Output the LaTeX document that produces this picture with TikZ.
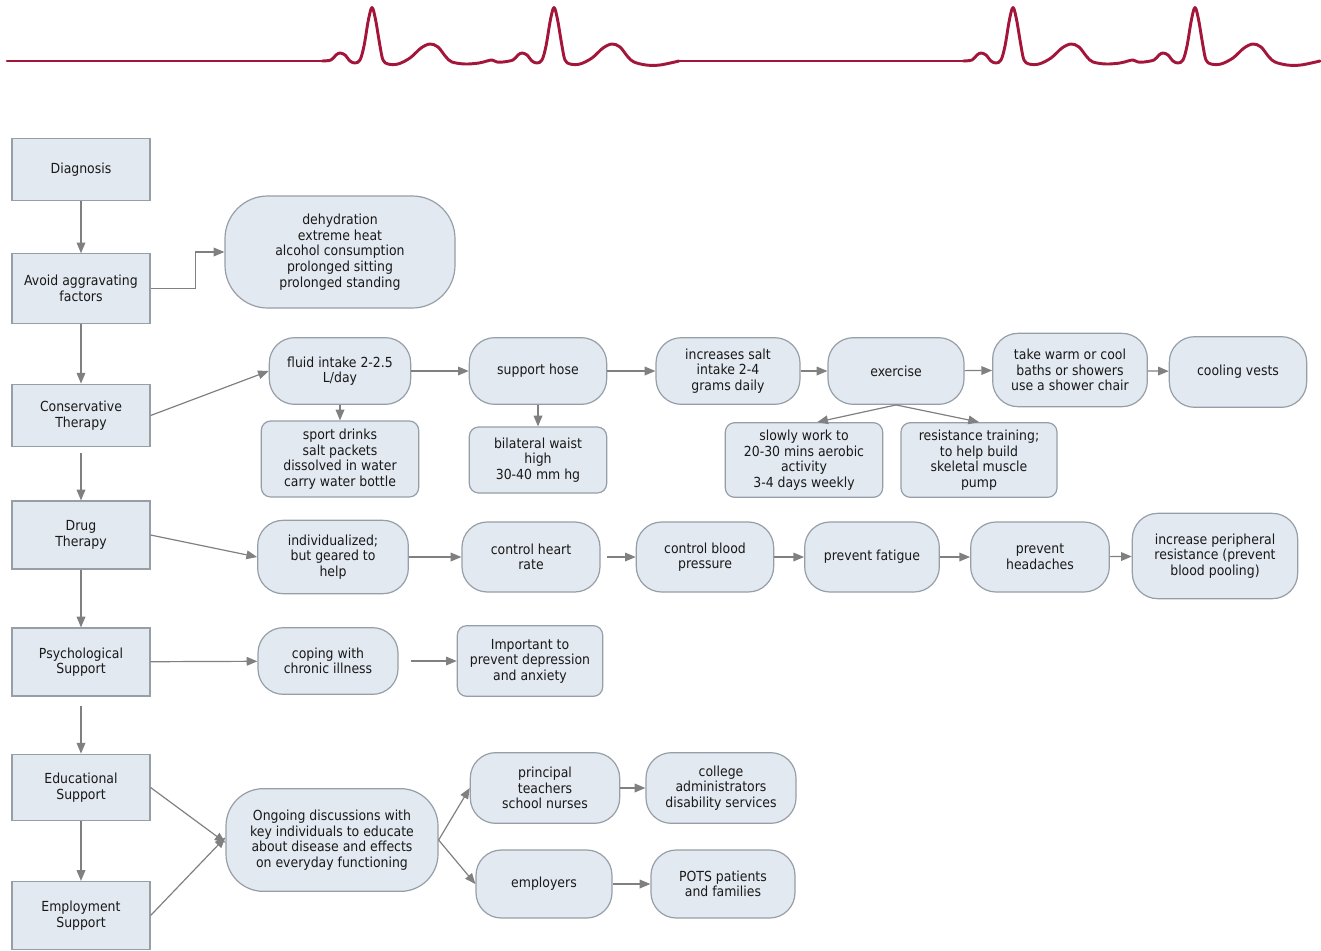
\documentclass[tikz,border=0pt]{standalone}
\usepackage{fontspec}
\setmainfont{DejaVu Sans Condensed}
\usetikzlibrary{arrows.meta}
\definecolor{boxfill}{RGB}{227,233,241}
\definecolor{boxline}{RGB}{150,158,168}
\definecolor{arrgray}{RGB}{128,128,128}
\definecolor{ecgred}{RGB}{163,22,58}
\definecolor{txt}{RGB}{25,25,25}
\tikzset{
	lbox/.style={draw=boxline, fill=boxfill, line width=0.9pt, minimum width=103.5pt, align=center, text=txt, inner sep=2pt, font=\fontsize{10.4}{11.7}\selectfont},
	stad/.style={lbox, rounded corners=19pt},
	rbox/.style={lbox, rounded corners=7pt},
	arr/.style={draw=arrgray, line width=0.9pt, -{Triangle[length=8pt,width=6.5pt]}},
	ecg/.style={draw=ecgred, line width=2.2pt, line cap=round, line join=round}}
\tikzset{every picture/.style={line width=0.75pt}}

\begin{document}
\begin{tikzpicture}[x=0.75pt,y=0.75pt,yscale=-1,xscale=1]
	\useasboundingbox (0,0) rectangle (1321,950);

	%Curve Lines: heart beat strip
	\draw[ecg] (7,61) -- (322,61);
	\draw[ecg] (679,61) -- (963,61);
	\foreach \dx in {0,641} {
		\draw[ecg, shift={(\dx,0)}] plot[smooth, tension=0.55] coordinates {(322,61) (331,60) (336,55) (340,53) (345,55) (350,61) (355,63) (360,60) (364,46) (368,22) (371,9) (373,9) (376,22) (380,46) (383,60) (388,64) (398,64) (410,58) (421,48) (430,44) (438,47) (446,57) (452,62) (465,64) (479,63) (487,61) (492,60) (497,62) (503,62) (513,60) (518,55) (522,53) (527,55) (532,61) (537,63) (542,60) (546,46) (550,22) (553,9) (555,9) (558,22) (562,46) (565,60) (570,64) (580,64) (592,58) (603,48) (612,44) (620,47) (628,57) (634,62) (646,65) (660,65) (679,61)};
	}

	%Shape: left column
	\node[lbox, minimum height=47pt] (diag) at (81,169.5) {Diagnosis};
	\node[lbox, minimum height=52pt] (avoid) at (81,288.5) {Avoid aggravating\\factors};
	\node[lbox, minimum height=47pt] (cons) at (81,415.5) {Conservative\\Therapy};
	\node[lbox, minimum height=51pt] (drug) at (81,535) {Drug\\Therapy};
	\node[lbox, minimum height=51pt] (psych) at (81,662) {Psychological\\Support};
	\node[lbox, minimum height=50pt] (edu) at (81,787.5) {Educational\\Support};
	\node[lbox, minimum height=51pt] (employ) at (81,915.5) {Employment\\Support};

	%Shape: aggravating factors
	\node[stad, rounded corners=32pt, minimum width=172.5pt, minimum height=84pt] (factors) at (340,252) {dehydration\\extreme heat\\alcohol consumption\\prolonged sitting\\prolonged standing};

	%Shape: conservative therapy row
	\node[stad, minimum width=106pt, minimum height=50pt] (fluid) at (340,371) {fluid intake 2-2.5\\L/day};
	\node[rbox, minimum width=118pt, minimum height=57pt] (drinks) at (340,459) {sport drinks\\salt packets\\dissolved in water\\carry water bottle};
	\node[stad, minimum width=103pt, minimum height=50pt] (hose) at (538,371) {support hose};
	\node[rbox, minimum width=103pt, minimum height=49.5pt] (waist) at (538,460) {bilateral waist\\high\\30-40 mm hg};
	\node[stad, minimum width=108pt, minimum height=50pt] (salt) at (728,371) {increases salt\\intake 2-4\\grams daily};
	\node[stad, minimum width=102pt, minimum height=50pt] (exer) at (896,371) {exercise};
	\node[stad, minimum width=116pt, minimum height=55pt] (bath) at (1070,370) {take warm or cool\\baths or showers\\use a shower chair};
	\node[stad, minimum width=103pt, minimum height=53pt] (vest) at (1238,372) {cooling vests};
	\node[rbox, minimum width=118pt, minimum height=56pt] (aerob) at (804,460) {slowly work to\\20-30 mins aerobic\\activity\\3-4 days weekly};
	\node[rbox, minimum width=117pt, minimum height=56pt] (resist) at (979,460) {resistance training;\\to help build\\skeletal muscle\\pump};

	%Shape: drug therapy row
	\node[stad, minimum width=113pt, minimum height=55pt] (indiv) at (333,557) {individualized;\\but geared to\\help};
	\node[stad, minimum width=103.5pt, minimum height=52.5pt] (heart) at (531,557) {control heart\\rate};
	\node[stad, minimum width=103pt, minimum height=52.5pt] (blood) at (705,557) {control blood\\pressure};
	\node[stad, minimum width=101pt, minimum height=52.5pt] (fatig) at (872,557) {prevent fatigue};
	\node[stad, minimum width=104pt, minimum height=52.5pt] (head) at (1040,557) {prevent\\headaches};
	\node[stad, minimum width=124pt, minimum height=64pt] (perip) at (1215,556) {increase peripheral\\resistance (prevent\\blood pooling)};

	%Shape: psychological support row
	\node[stad, minimum width=105pt, minimum height=50pt] (coping) at (328,661) {coping with\\chronic illness};
	\node[rbox, minimum width=109pt, minimum height=53pt] (depr) at (530,661) {Important to\\prevent depression\\and anxiety};

	%Shape: educational / employment support
	\node[stad, rounded corners=28pt, minimum width=159pt, minimum height=77pt] (ongo) at (332,840) {Ongoing discussions with\\key individuals to educate\\about disease and effects\\on everyday functioning};
	\node[stad, minimum width=112pt, minimum height=53pt] (school) at (545,788) {principal\\teachers\\school nurses};
	\node[stad, minimum width=112.5pt, minimum height=53pt] (college) at (721,788) {college\\administrators\\disability services};
	\node[stad, minimum width=102pt, minimum height=51pt] (emplr) at (544,884) {employers};
	\node[stad, minimum width=108pt, minimum height=51pt] (pots) at (723,884) {POTS patients\\and families};

	%Straight Lines: left column
	\draw[arr] (diag) -- (avoid);
	\draw[arr] (avoid) -- (cons);
	\draw[arr, shorten <=4pt] (cons) -- (drug);
	\draw[arr] (drug) -- (psych);
	\draw[arr, shorten <=7pt] (psych) -- (edu);
	\draw[arr] (edu) -- (employ);

	%Straight Lines: branches
	\draw[arr] (avoid.east) -- ++(45,0) |- (factors.west);
	\draw[arr] (cons.east) -- (fluid.west);
	\draw[arr] (fluid) -- (drinks);
	\draw[arr] (fluid) -- (hose);
	\draw[arr] (hose) -- (waist);
	\draw[arr] (hose) -- (salt);
	\draw[arr] (salt) -- (exer);
	\draw[arr] (exer) -- (bath);
	\draw[arr] (bath) -- (vest);
	\draw[arr] (exer.south) -- ([xshift=10pt]aerob.north);
	\draw[arr] (exer.south) -- (resist.north);

	\draw[arr] (drug.east) -- (indiv.west);
	\draw[arr] (indiv) -- (heart);
	\draw[arr, shorten <=5pt] (heart) -- (blood);
	\draw[arr] (blood) -- (fatig);
	\draw[arr] (fatig) -- (head);
	\draw[arr] (head) -- (perip);

	\draw[arr] (psych) -- (coping);
	\draw[arr, shorten <=9pt] (coping) -- (depr);

	\draw[arr] (edu.east) -- ([yshift=2pt]ongo.west);
	\draw[arr] (employ.east) -- ([yshift=-2pt]ongo.west);
	\draw[arr] (ongo.east) -- (school.west);
	\draw[arr] (ongo.east) -- (emplr.west);
	\draw[arr] (school) -- (college);
	\draw[arr] (emplr) -- (pots);

\end{tikzpicture}
\end{document}
